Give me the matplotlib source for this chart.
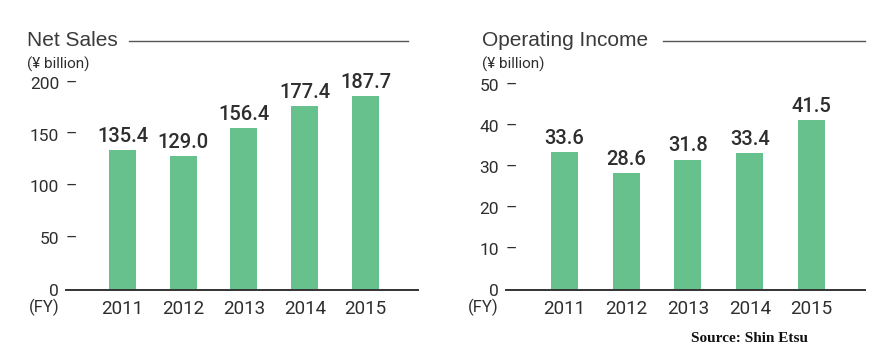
import matplotlib
matplotlib.use("Agg")
import matplotlib.pyplot as plt

years = ["2011", "2012", "2013", "2014", "2015"]
net_sales = [135.4, 129.0, 156.4, 177.4, 187.7]
op_income = [33.6, 28.6, 31.8, 33.4, 41.5]
net_ticks = [0, 50, 100, 150, 200]
op_ticks = [0, 10, 20, 30, 40, 50]

W, H = 879, 362
BAR = "#66c18c"
TXT = "#2e2e2e"
NARROW = ["Roboto", "DejaVu Sans"]
REG = ["Liberation Sans", "DejaVu Sans"]

fig = plt.figure(figsize=(W / 100, H / 100), dpi=100)


def px_rect(x0, x1, ybot, ytop):
    return [x0 / W, 1 - ybot / H, (x1 - x0) / W, (ybot - ytop) / H]


def panel(rect, values, ticks, spacing, first_center, title, title_line, fmt):
    x0 = rect[0]
    x1 = rect[1]
    ax = fig.add_axes(px_rect(*rect))
    xs = list(range(len(years)))
    left = (x0 - first_center) / spacing
    right = (x1 - first_center) / spacing
    ax.set_xlim(left, right)
    ax.set_ylim(0, ticks[-1])
    bars = ax.bar(xs, values, width=27 / spacing, color=BAR, zorder=2)
    for b, v in zip(bars, values):
        ax.annotate(fmt.format(v), (b.get_x() + b.get_width() / 2, v),
                    xytext=(0, 3), textcoords="offset points",
                    ha="center", va="bottom", fontsize=14.5,
                    fontweight="medium", color=TXT, family=NARROW)
    for s in ["top", "right", "left"]:
        ax.spines[s].set_visible(False)
    ax.spines["bottom"].set_color("#333333")
    ax.spines["bottom"].set_linewidth(1.4)
    ax.set_xticks(xs, years)
    ax.tick_params(axis="x", length=0, pad=7, labelsize=13.5, labelcolor=TXT)
    for lab in ax.get_xticklabels():
        lab.set_family(NARROW)
    ax.set_yticks(ticks, [str(t) for t in ticks])
    ax.tick_params(axis="y", length=0, pad=5, labelsize=12.5, labelcolor=TXT)
    for lab in ax.get_yticklabels():
        lab.set_family(NARROW)
    trans = ax.get_yaxis_transform()
    for t in ticks[1:]:
        ax.text(5.5 / (x1 - x0), t, "–", transform=trans, ha="center",
                va="center", fontsize=12.5, color=TXT, family=NARROW)
    # (FY)
    ax.text(-7 / (x1 - x0), -17 / (rect[2] - rect[3]), "(FY)",
            transform=ax.transAxes, ha="right", va="center",
            fontsize=12, color=TXT, family=NARROW)
    # title, unit, line
    tx, tline0, tline1 = title_line
    fig.text(tx / W, 1 - 40 / H, title, ha="left", va="center",
             fontsize=15, color="#3a3a3a", family=REG)
    fig.text(tx / W, 1 - 64 / H, "(¥ billion)", ha="left", va="center",
             fontsize=11, color=TXT, family=NARROW)
    fig.add_artist(plt.Line2D([tline0 / W, tline1 / W], [1 - 41 / H, 1 - 41 / H],
                              color="#555555", lw=1.0))
    return ax


panel((66, 418, 290, 83), net_sales, net_ticks, 60.75, 122.5,
      "Net Sales", (27, 129, 408), "{:.1f}")
panel((506, 865, 290, 85), op_income, op_ticks, 61.75, 564.5,
      "Operating Income", (482, 663, 865), "{:.1f}")

fig.text(808 / W, 1 - 338 / H, "Source: Shin Etsu", ha="right", va="center",
         fontsize=11, fontweight="bold", color="#111111",
         family=["Liberation Serif", "DejaVu Serif"])

fig.savefig("out.png", dpi=100)
